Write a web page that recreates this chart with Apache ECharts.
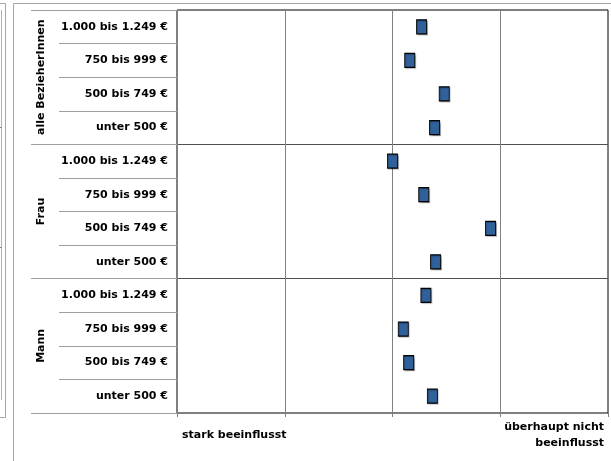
<!DOCTYPE html>
<html>
<head>
<meta charset="utf-8">
<script src="https://cdn.jsdelivr.net/npm/echarts@6/dist/echarts.min.js"></script>
<style>
  html, body { margin: 0; padding: 0; background: #fff; }
  #chart { width: 611px; height: 461px; }
</style>
</head>
<body>
<div id="chart"></div>
<script>
// ---- data ----
const groups = ['alle BezieherInnen', 'Frau', 'Mann'];
const incomeBands = ['1.000 bis 1.249 €', '750 bis 999 €', '500 bis 749 €', 'unter 500 €'];
const alleValues = [3.27, 3.16, 3.48, 3.39];
const frauValues = [3.00, 3.29, 3.91, 3.40];
const mannValues = [3.31, 3.10, 3.15, 3.37];
const scaleMin = 1;
const scaleMax = 5;
const scaleEndLabels = ['stark beeinflusst', 'überhaupt nicht\nbeeinflusst'];

// ---- build ----
const groupValues = [alleValues, frauValues, mannValues];
const rows = [];
const points = [];
groups.forEach(function (g, gi) {
  incomeBands.forEach(function (b, bi) {
    rows.push(g + '|' + b);
    points.push([groupValues[gi][bi], rows.length - 1]);
  });
});

const FONT = 'DejaVu Sans';
const chart = echarts.init(document.getElementById('chart'), null, { renderer: 'canvas' });

chart.setOption({
  animation: false,
  backgroundColor: '#ffffff',
  grid: {
    left: 177, right: 2, top: 10, bottom: 48,
    show: true, borderColor: '#000000', borderWidth: 1, backgroundColor: 'transparent'
  },
  xAxis: {
    type: 'value',
    min: scaleMin, max: scaleMax, interval: 1,
    axisLine: { show: true, lineStyle: { color: '#808080', width: 1 } },
    axisTick: { show: true, length: 4, lineStyle: { color: '#808080' } },
    splitLine: { show: true, showMinLine: false, showMaxLine: false, lineStyle: { color: '#808080', width: 1 } },
    axisLabel: {
      show: true,
      margin: 22,
      verticalAlign: 'middle',
      alignMinLabel: 'left',
      alignMaxLabel: 'right',
      showMinLabel: true,
      showMaxLabel: true,
      fontFamily: FONT, fontWeight: 'bold', fontSize: 11, color: '#000',
      formatter: function (v) {
        if (v === scaleMin) return '{a|' + scaleEndLabels[0] + '}';
        if (v === scaleMax) return scaleEndLabels[1].split('\n').map(function (s) { return '{b|' + s + '}'; }).join('\n');
        return '';
      },
      rich: {
        a: { fontFamily: FONT, fontWeight: 'bold', fontSize: 11, color: '#000', padding: [0, 0, 0, 5], lineHeight: 16 },
        b: { fontFamily: FONT, fontWeight: 'bold', fontSize: 11, color: '#000', padding: [0, 4, 0, 0], lineHeight: 16 }
      }
    }
  },
  yAxis: [
    {
      type: 'category',
      data: rows,
      inverse: true,
      position: 'left',
      axisLine: { show: true, lineStyle: { color: '#808080' } },
      axisTick: { show: true, interval: 0, length: 118, lineStyle: { color: '#a0a0a0' } },
      splitLine: { show: false },
      axisLabel: {
        interval: 0,
        margin: 9,
        fontFamily: FONT, fontWeight: 'bold', fontSize: 11, color: '#000',
        formatter: function (v) { return v.split('|')[1]; }
      }
    },
    {
      type: 'category',
      data: groups,
      inverse: true,
      position: 'left',
      offset: 0,
      axisLine: { show: false },
      axisTick: { show: true, interval: 0, length: 146, lineStyle: { color: '#a0a0a0' } },
      splitLine: { show: true, interval: 0, showMinLine: false, showMaxLine: false, lineStyle: { color: '#505050', width: 1 } },
      axisLabel: {
        interval: 0,
        rotate: 90,
        margin: 130,
        hideOverlap: false,
        fontFamily: FONT, fontWeight: 'bold', fontSize: 11, color: '#000'
      }
    }
  ],
  series: [
    {
      type: 'scatter',
      xAxisIndex: 0,
      yAxisIndex: 0,
      data: points,
      symbol: 'rect',
      symbolSize: [10, 14],
      z: 5,
      itemStyle: {
        color: '#31619B', borderColor: '#000000', borderWidth: 1, opacity: 1,
        shadowColor: 'rgba(0,0,0,0.25)', shadowBlur: 1, shadowOffsetX: 1, shadowOffsetY: 1
      },
      emphasis: { disabled: true }
    }
  ],
  graphic: [
    { type: 'polyline', shape: { points: [[13.5, 461], [13.5, 3.5], [611, 3.5]] }, style: { stroke: '#a6a6a6', lineWidth: 1, fill: null }, silent: true },
    { type: 'polyline', shape: { points: [[0, 3.5], [5.5, 3.5], [5.5, 417.5], [0, 417.5]] }, style: { stroke: '#a6a6a6', lineWidth: 1, fill: null }, silent: true },
    { type: 'line', shape: { x1: 1.5, y1: 10, x2: 1.5, y2: 400 }, style: { stroke: '#b0b0b0', lineWidth: 1 }, silent: true },
    { type: 'line', shape: { x1: 0, y1: 127.5, x2: 1.5, y2: 127.5 }, style: { stroke: '#808080', lineWidth: 1 }, silent: true },
    { type: 'line', shape: { x1: 0, y1: 247.5, x2: 1.5, y2: 247.5 }, style: { stroke: '#808080', lineWidth: 1 }, silent: true }
  ]
});
</script>
</body>
</html>
